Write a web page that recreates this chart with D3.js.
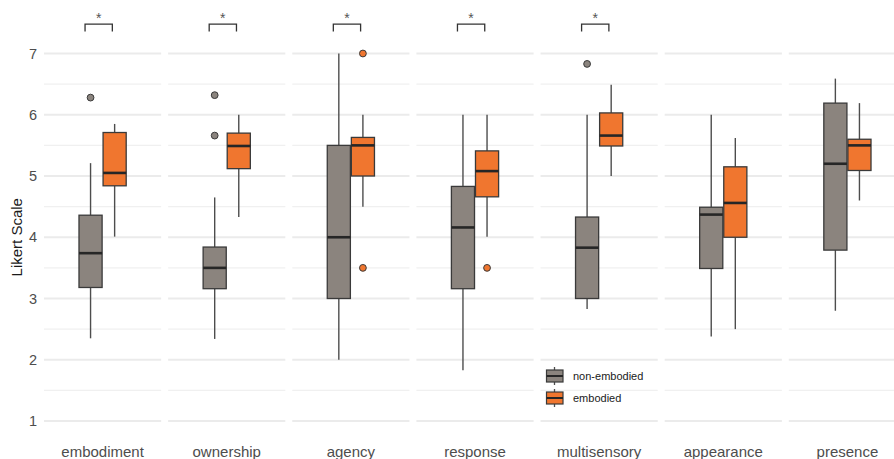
<!DOCTYPE html>
<html>
<head>
<meta charset="utf-8">
<script src="https://cdn.jsdelivr.net/npm/d3@7"></script>
<style>
  html, body { margin: 0; padding: 0; background: #ffffff; }
  svg { display: block; font-family: "Liberation Sans", Arial, Helvetica, sans-serif; }
</style>
</head>
<body>
<svg id="chart" width="894" height="459"></svg>
<script>
// Questionnaire dimensions (one facet per dimension)
const categories = ["embodiment", "ownership", "agency", "response", "multisensory", "appearance", "presence"];
const groups = ["non-embodied", "embodied"];

// Box summaries per dimension: [lower whisker, Q1, median, Q3, upper whisker]
const nonEmbodiedStats = [
  [2.35, 3.18, 3.74, 4.36, 5.21],
  [2.34, 3.16, 3.50, 3.84, 4.65],
  [2.00, 3.00, 4.00, 5.50, 7.00],
  [1.83, 3.16, 4.16, 4.83, 6.00],
  [2.83, 3.00, 3.83, 4.33, 6.00],
  [2.38, 3.49, 4.37, 4.49, 6.00],
  [2.80, 3.79, 5.20, 6.19, 6.59]
];
const embodiedStats = [
  [4.01, 4.84, 5.05, 5.71, 5.85],
  [4.33, 5.12, 5.49, 5.70, 6.00],
  [4.50, 5.00, 5.50, 5.63, 6.00],
  [4.01, 4.66, 5.08, 5.41, 6.00],
  [5.00, 5.49, 5.66, 6.03, 6.49],
  [2.50, 4.00, 4.56, 5.15, 5.62],
  [4.60, 5.09, 5.50, 5.60, 6.19]
];

// Outlying responses per dimension
const nonEmbodiedOutliers = [[6.28], [6.32, 5.66], [], [], [6.83], [], []];
const embodiedOutliers = [[], [], [7.0, 3.5], [3.5], [], [], []];

// Dimensions with a significant group difference
const significant = ["embodiment", "ownership", "agency", "response", "multisensory"];

const yTicks = [1, 2, 3, 4, 5, 6, 7];
const yMinor = [1.5, 2.5, 3.5, 4.5, 5.5, 6.5];

const fills = { "non-embodied": "#8b847e", "embodied": "#f0762f" };

const svg = d3.select("#chart");

const y = d3.scaleLinear().domain([1, 7]).range([421, 53.5]);

const facet = d3.scaleBand()
  .domain(categories)
  .range([44, 906])
  .paddingInner(0.056)
  .paddingOuter(0);

const bw = facet.bandwidth();
const dodge = d3.scaleBand()
  .domain(groups)
  .range([bw / 2 - 23.6, bw / 2 + 23.6])
  .paddingInner(0.04);

const statsByGroup = { "non-embodied": nonEmbodiedStats, "embodied": embodiedStats };
const outliersByGroup = { "non-embodied": nonEmbodiedOutliers, "embodied": embodiedOutliers };

// Facet panels with grid
const panels = svg.selectAll("g.panel")
  .data(categories)
  .join("g")
  .attr("class", "panel")
  .attr("transform", d => `translate(${facet(d)},0)`);

panels.selectAll("line.minor")
  .data(yMinor)
  .join("line")
  .attr("class", "minor")
  .attr("x1", 0).attr("x2", bw)
  .attr("y1", d => y(d)).attr("y2", d => y(d))
  .attr("stroke", "#f0f0f0")
  .attr("stroke-width", 1.2);

panels.selectAll("line.major")
  .data(yTicks)
  .join("line")
  .attr("class", "major")
  .attr("x1", 0).attr("x2", bw)
  .attr("y1", d => y(d)).attr("y2", d => y(d))
  .attr("stroke", "#ebebeb")
  .attr("stroke-width", 2);

// Boxplots
panels.each(function (cat, i) {
  const g = d3.select(this);
  groups.forEach(grp => {
    const s = statsByGroup[grp][i];
    const x0 = dodge(grp);
    const w = dodge.bandwidth();
    const cx = x0 + w / 2;
    const box = g.append("g");
    // whiskers
    box.append("line")
      .attr("x1", cx).attr("x2", cx)
      .attr("y1", y(s[3])).attr("y2", y(s[4]))
      .attr("stroke", "#4d4d4d").attr("stroke-width", 1.4);
    box.append("line")
      .attr("x1", cx).attr("x2", cx)
      .attr("y1", y(s[1])).attr("y2", y(s[0]))
      .attr("stroke", "#4d4d4d").attr("stroke-width", 1.4);
    // box
    box.append("rect")
      .attr("x", x0).attr("width", w)
      .attr("y", y(s[3])).attr("height", y(s[1]) - y(s[3]))
      .attr("fill", fills[grp])
      .attr("stroke", "#3a3a3a").attr("stroke-width", 1.3);
    // median
    box.append("line")
      .attr("x1", x0).attr("x2", x0 + w)
      .attr("y1", y(s[2])).attr("y2", y(s[2]))
      .attr("stroke", "#262626").attr("stroke-width", 2.6);
    // outliers
    box.selectAll("circle")
      .data(outliersByGroup[grp][i])
      .join("circle")
      .attr("cx", cx).attr("cy", d => y(d))
      .attr("r", 3.4)
      .attr("fill", fills[grp])
      .attr("stroke", "#3a3a3a").attr("stroke-width", 1);
  });

  // significance bracket
  if (significant.includes(cat)) {
    const xl = dodge("non-embodied") + dodge.bandwidth() / 2 - 5.5;
    const xr = dodge("embodied") + dodge.bandwidth() / 2 - 2.3;
    const yTop = y(7.48), yLeg = y(7.36);
    g.append("path")
      .attr("d", `M${xl},${yLeg}V${yTop}H${xr}V${yLeg}`)
      .attr("fill", "none")
      .attr("stroke", "#333333")
      .attr("stroke-width", 1.3);
    g.append("text")
      .attr("x", (xl + xr) / 2)
      .attr("y", 22.5)
      .attr("text-anchor", "middle")
      .attr("font-size", 14)
      .attr("fill", "#555555")
      .text("*");
  }
});

// X facet labels
svg.selectAll("text.xlab")
  .data(categories)
  .join("text")
  .attr("class", "xlab")
  .attr("x", d => facet(d) + bw / 2)
  .attr("y", 457)
  .attr("text-anchor", "middle")
  .attr("font-size", 15)
  .attr("fill", "#4d4d4d")
  .text(d => d);

// Y axis tick labels
svg.selectAll("text.ytick")
  .data(yTicks)
  .join("text")
  .attr("class", "ytick")
  .attr("x", 37)
  .attr("y", d => y(d))
  .attr("dy", "0.36em")
  .attr("text-anchor", "end")
  .attr("font-size", 14.5)
  .attr("fill", "#4d4d4d")
  .text(d => d);

// Y axis title
svg.append("text")
  .attr("transform", `translate(22,${(y(1) + y(7)) / 2}) rotate(-90)`)
  .attr("text-anchor", "middle")
  .attr("font-size", 15)
  .attr("fill", "#1a1a1a")
  .text("Likert Scale");

// Legend
const legend = svg.append("g").attr("transform", "translate(546,367)");
groups.forEach((grp, k) => {
  const gy = k * 22;
  const lg = legend.append("g").attr("transform", `translate(0,${gy})`);
  lg.append("line")
    .attr("x1", 8.5).attr("x2", 8.5)
    .attr("y1", 0).attr("y2", 18)
    .attr("stroke", "#4d4d4d").attr("stroke-width", 1.3);
  lg.append("rect")
    .attr("x", 0.5).attr("y", 3).attr("width", 16.5).attr("height", 12)
    .attr("fill", fills[grp])
    .attr("stroke", "#3a3a3a").attr("stroke-width", 1.2);
  lg.append("line")
    .attr("x1", 0.5).attr("x2", 17)
    .attr("y1", 9).attr("y2", 9)
    .attr("stroke", "#262626").attr("stroke-width", 2);
  lg.append("text")
    .attr("x", 27)
    .attr("y", 9)
    .attr("dy", "0.36em")
    .attr("font-size", 11)
    .attr("fill", "#1a1a1a")
    .text(grp);
});
</script>
</body>
</html>
